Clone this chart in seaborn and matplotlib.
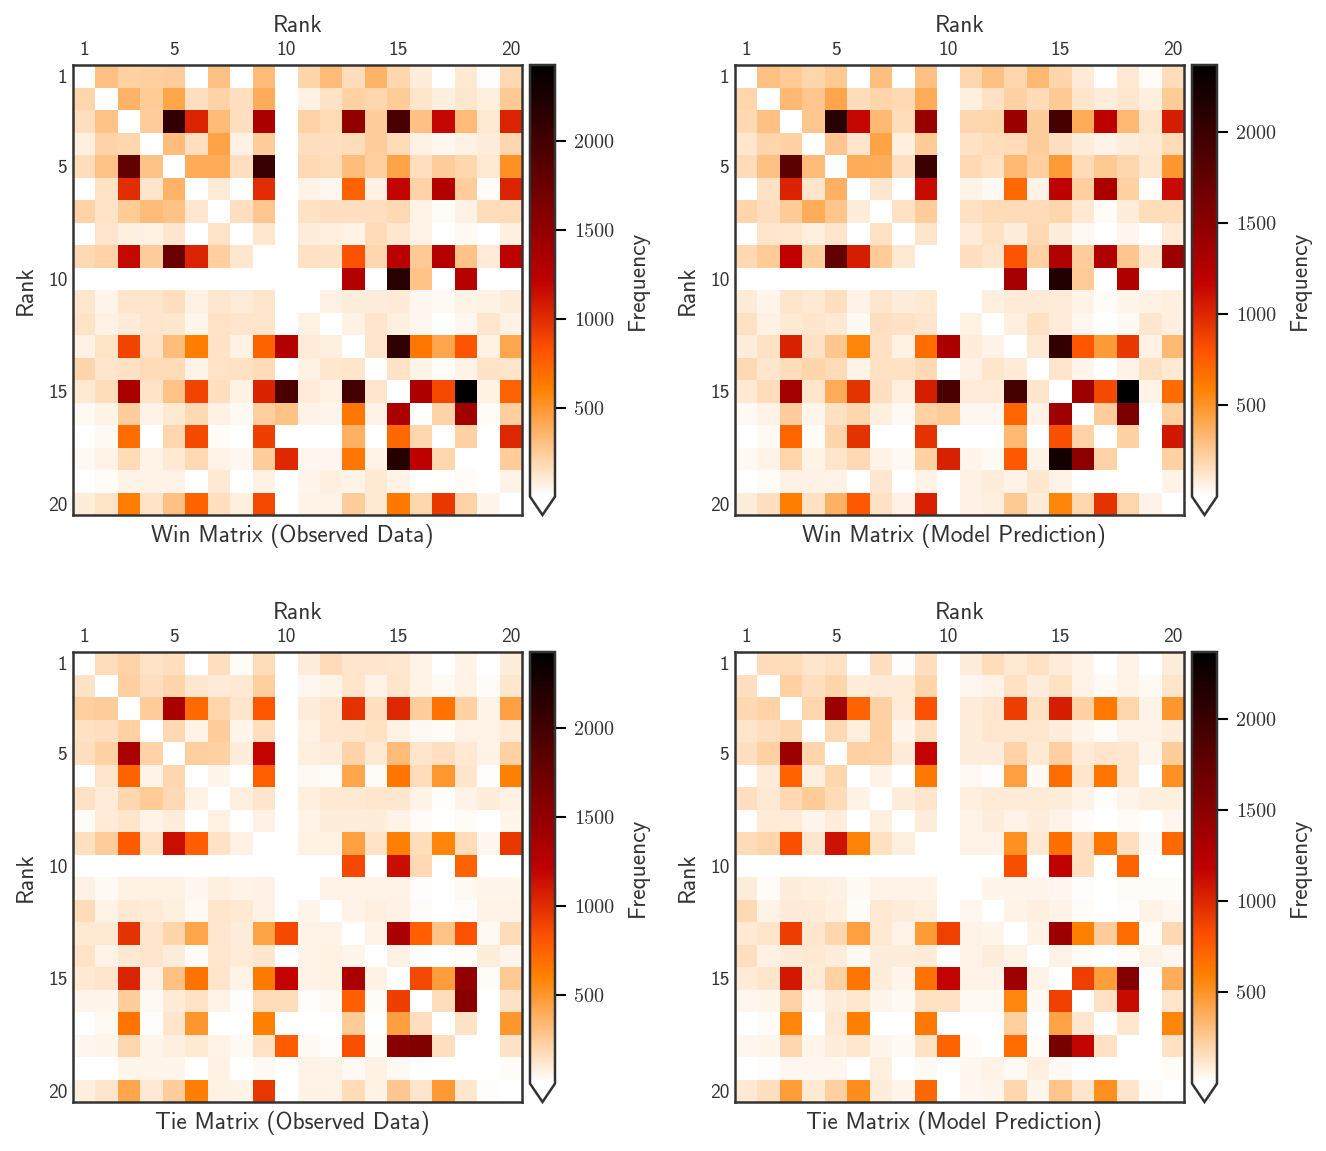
import numpy as np
import pandas as pd
import seaborn as sns
import matplotlib.pyplot as plt

# frequencies, rows and columns are ranks 1..20
win_observed = [
    [0,300,220,230,245,0,300,10,330,0,205,330,165,370,195,90,0,110,15,190],
    [205,0,370,255,430,155,215,155,390,0,75,140,220,195,255,125,85,115,85,265],
    [155,290,0,240,2100,1040,330,155,1350,0,215,180,1500,245,1970,300,1180,330,110,1050],
    [85,215,195,0,320,155,440,70,245,0,155,155,165,245,180,70,40,70,90,195],
    [170,290,1800,290,0,400,400,155,2080,0,190,170,320,230,440,155,245,195,110,530],
    [5,140,1000,130,370,0,100,0,1000,0,60,40,750,75,1200,215,1300,240,20,1050],
    [215,140,255,330,290,115,0,155,275,0,150,155,155,155,190,60,20,75,165,165],
    [10,130,85,75,115,0,140,0,115,0,90,85,60,180,115,60,0,30,0,85],
    [190,215,1170,240,1750,1050,230,115,0,0,150,140,830,195,1250,265,1280,290,100,1230],
    [0,0,0,0,0,0,0,0,0,0,0,0,1300,0,2180,290,0,1270,0,0],
    [115,50,125,125,155,70,115,100,125,0,0,75,90,90,100,40,30,60,75,90],
    [140,75,100,125,115,50,140,125,125,0,70,0,75,130,85,40,5,40,115,75],
    [75,140,900,140,320,620,140,70,750,1300,100,85,0,130,2120,650,430,820,70,420],
    [205,125,150,180,180,60,140,150,180,0,75,115,130,0,140,60,20,60,140,125],
    [110,170,1350,140,290,900,155,70,1050,1950,100,75,2000,130,0,1330,880,2429,70,750],
    [30,60,245,60,110,190,70,30,230,290,60,50,650,60,1350,0,215,1400,20,230],
    [0,30,700,10,195,870,20,0,920,0,10,0,380,0,730,195,0,220,0,1030],
    [30,60,180,60,110,190,60,40,245,1020,40,40,650,60,2200,1220,195,0,10,240],
    [0,25,60,60,60,10,110,0,75,0,50,85,60,110,60,10,0,20,0,60],
    [90,140,620,140,300,750,155,85,880,0,60,60,245,110,640,195,950,215,50,0],
]
win_model = [
    [0,290,245,195,255,0,300,10,290,0,190,290,190,330,195,100,0,110,20,165],
    [195,0,330,265,420,165,195,180,390,0,75,140,220,170,255,125,90,115,75,245],
    [180,290,0,265,2110,1150,330,165,1430,0,190,195,1410,240,1930,390,1200,330,125,1050],
    [115,195,215,0,265,130,430,75,245,0,140,165,170,240,155,85,60,90,110,170],
    [170,290,1800,320,0,390,380,155,2000,0,180,140,330,230,470,170,255,190,115,490],
    [0,140,1020,125,370,0,115,0,1130,0,60,30,700,60,1200,230,1300,220,15,1130],
    [195,150,245,380,275,90,0,140,240,0,140,170,170,170,190,110,20,85,165,165],
    [0,130,115,75,125,0,140,0,125,0,100,140,90,180,90,30,0,40,0,100],
    [180,245,1180,230,1750,1050,245,110,0,0,150,125,800,215,1280,240,1280,265,110,1400],
    [0,0,0,0,0,0,0,0,0,0,0,0,1340,0,2170,245,0,1280,0,0],
    [100,50,130,110,150,60,115,85,110,0,0,75,100,100,100,60,20,50,70,75],
    [140,70,110,125,110,30,150,140,125,0,70,0,75,140,100,40,5,30,115,75],
    [90,140,1030,140,265,570,140,70,680,1300,85,60,0,110,2050,780,470,930,70,330],
    [180,115,165,195,170,60,140,140,180,0,70,125,100,0,125,50,0,60,140,110],
    [110,165,1350,130,390,950,155,75,1050,1900,100,100,1930,130,0,1400,850,2365,60,680],
    [30,60,240,50,140,190,75,30,220,245,40,40,720,60,1380,0,240,1590,10,220],
    [0,30,720,20,195,950,10,0,950,0,10,0,330,0,820,205,0,220,0,1080],
    [30,60,195,60,130,180,60,30,215,1030,50,30,770,60,2240,1500,205,0,10,215],
    [0,25,70,70,60,10,115,0,60,0,70,90,60,115,60,10,0,10,0,60],
    [90,150,610,140,370,770,140,70,1030,0,70,75,255,100,570,190,950,195,60,0],
]
tie_observed = [
    [0,165,215,140,155,0,155,20,170,0,90,180,130,125,115,60,0,60,0,90],
    [140,0,230,155,205,115,100,110,230,0,40,60,130,60,130,60,30,60,20,115],
    [230,240,0,240,1350,720,205,130,800,0,90,115,980,155,1030,240,680,220,60,450],
    [150,155,220,0,190,60,245,50,155,0,75,115,125,150,75,30,20,60,60,100],
    [155,220,1350,215,0,230,220,90,1200,0,85,90,215,110,330,125,155,110,60,220],
    [0,130,750,60,195,0,50,0,760,0,30,20,430,20,660,165,500,130,15,600],
    [150,100,195,255,190,60,0,85,125,0,85,110,110,115,115,60,15,60,90,75],
    [20,100,125,60,90,0,75,0,75,0,60,90,90,90,60,20,0,20,0,50],
    [155,240,780,150,1150,770,140,75,0,0,70,70,450,140,600,170,580,170,40,950],
    [0,0,0,0,0,0,0,0,0,0,0,0,880,0,1150,190,0,750,0,0],
    [75,30,75,75,75,40,85,60,70,0,0,60,60,60,60,15,0,30,50,50],
    [180,60,110,100,85,30,125,110,75,0,50,0,60,85,75,25,0,15,60,60],
    [110,110,970,125,205,430,115,90,440,870,60,60,0,60,1350,760,290,830,30,180],
    [140,60,110,130,90,20,115,100,115,0,60,75,50,0,75,15,5,20,90,50],
    [110,130,1050,75,300,670,125,60,630,1200,60,75,1350,75,0,880,470,1500,20,265],
    [50,50,240,30,100,140,60,15,165,165,15,30,760,20,920,0,165,1550,0,140],
    [0,30,670,15,125,500,5,0,600,0,0,0,255,0,460,155,0,140,0,500],
    [40,50,195,50,85,110,60,30,140,780,30,15,840,20,1550,1600,155,0,5,140],
    [0,10,50,50,50,10,75,0,30,0,60,60,30,75,30,5,0,10,0,20],
    [85,130,430,110,240,620,75,60,950,0,60,60,180,60,275,125,490,115,15,0],
]
tie_model = [
    [0,165,165,125,140,0,155,15,155,0,90,165,110,140,100,60,0,60,0,85],
    [155,0,220,155,195,90,100,100,195,0,40,60,140,85,140,60,30,60,30,125],
    [180,205,0,190,1400,730,215,100,810,0,100,115,900,140,1050,215,620,195,60,490],
    [125,155,190,0,180,75,220,50,140,0,85,115,115,115,90,50,20,60,60,90],
    [155,220,1400,195,0,220,205,100,1170,0,85,85,205,110,230,100,130,115,50,240],
    [0,100,730,75,190,0,60,0,620,0,30,15,450,35,680,125,640,115,0,510],
    [155,110,180,245,170,60,0,90,125,0,75,100,100,100,90,60,15,50,75,75],
    [10,100,100,50,90,0,75,0,85,0,60,90,60,85,60,20,0,20,0,40],
    [170,195,820,130,1100,580,140,75,0,0,60,60,510,110,670,155,630,155,30,700],
    [0,0,0,0,0,0,0,0,0,0,0,0,830,0,1180,155,0,730,0,0],
    [85,20,85,75,70,30,60,60,60,0,0,50,50,50,40,15,0,20,20,20],
    [180,60,100,100,75,20,110,90,75,0,40,0,60,75,60,20,0,15,60,40],
    [110,125,900,115,190,450,110,60,470,880,60,50,0,60,1400,600,240,680,20,180],
    [150,70,100,110,90,30,90,90,100,0,60,85,60,0,60,20,5,25,60,40],
    [100,125,1070,100,220,640,90,50,660,1170,60,60,1400,60,0,890,460,1560,15,380],
    [40,50,205,40,90,115,50,30,140,140,30,30,560,30,880,0,140,1130,0,130],
    [0,20,570,10,110,600,5,0,620,0,0,0,230,0,430,115,0,115,0,570],
    [40,50,190,50,90,115,50,30,140,730,20,10,680,20,1620,1160,140,0,0,140],
    [0,15,40,40,40,0,75,0,30,0,40,60,30,75,30,0,0,0,0,20],
    [110,155,460,110,230,530,90,50,710,0,40,50,190,50,275,125,520,130,20,0],
]
ranks = list(range(1, 21))
rank_ticks = [1, 5, 10, 15, 20]
cbar_ticks = [500, 1000, 1500, 2000]

sns.set_theme(style='white')
plt.rcParams['font.family'] = ['cmss10', 'DejaVu Sans']
plt.rcParams['axes.formatter.use_mathtext'] = True

W, H = 1326, 1151
fig = plt.figure(figsize=(W / 100, H / 100), dpi=100)
dark = '#333333'

cmap = plt.get_cmap('gist_heat_r').copy()
cmap.set_under('white')


def box(x0, y0, x1, y1):
    return [x0 / W, 1 - y1 / H, (x1 - x0) / W, (y1 - y0) / H]


def panel(data, title, x0, y0, vmax):
    ax = fig.add_axes(box(x0, y0, x0 + 449, y0 + 450))
    cax = fig.add_axes(box(x0 + 457, y0, x0 + 482, y0 + 450))
    df = pd.DataFrame(data, index=ranks, columns=ranks)
    sns.heatmap(df, ax=ax, cbar_ax=cax, cmap=cmap, vmin=1, vmax=vmax,
                xticklabels=False, yticklabels=False,
                cbar_kws={'extend': 'min', 'extendfrac': 0.0427, 'ticks': cbar_ticks})

    ax.xaxis.tick_top()
    ax.set_xticks([r - 0.5 for r in rank_ticks])
    ax.set_xticklabels(rank_ticks, fontsize=14, rotation=0)
    ax.set_yticks([r - 0.5 for r in rank_ticks])
    ax.set_yticklabels(rank_ticks, fontsize=14, rotation=0)
    ax.tick_params(length=0, pad=4, colors=dark)
    ax.xaxis.set_label_position('top')
    ax.set_xlabel('Rank', fontsize=16.8, color=dark, labelpad=7)
    ax.set_ylabel('Rank', fontsize=16.8, color=dark, labelpad=8)
    ax.text(0.488, -0.047, title, transform=ax.transAxes, ha='center', va='center',
            fontsize=16.8, color=dark)
    for s in ax.spines.values():
        s.set_visible(True)
        s.set_linewidth(1.8)
        s.set_color(dark)

    cb = ax.collections[0].colorbar
    cb.outline.set_linewidth(1.8)
    cb.outline.set_edgecolor(dark)
    cb.ax.tick_params(length=8, width=1.5, labelsize=14.5, pad=6, color='black',
                      labelcolor=dark, right=True)
    cb.ax.set_yticklabels([str(t) for t in cbar_ticks], family='cmr10')
    cb.set_label('Frequency', fontsize=16.8, color=dark, labelpad=9)


panel(win_observed, 'Win Matrix (Observed Data)', 73, 65, 2429)
panel(win_model, 'Win Matrix (Model Prediction)', 735, 65, 2365)
panel(tie_observed, 'Tie Matrix (Observed Data)', 73, 652, 2429)
panel(tie_model, 'Tie Matrix (Model Prediction)', 735, 652, 2365)

fig.savefig('out.png', dpi=100)
